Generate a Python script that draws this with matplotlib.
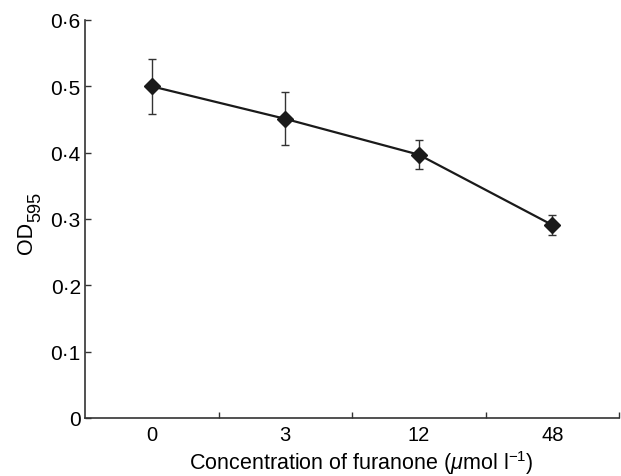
#!/usr/bin/env python3
"""OD595 against furanone concentration, mean with error bars."""

import matplotlib
matplotlib.use("Agg")
import matplotlib.pyplot as plt
import numpy as np

plt.rcParams.update(
    {
        "font.family": ["Liberation Sans", "DejaVu Sans"],
        "mathtext.fontset": "custom",
        "mathtext.rm": "Liberation Sans",
        "mathtext.it": "Liberation Sans:italic",
    }
)

concentrations = ["0", "3", "12", "48"]
od595 = [0.500, 0.451, 0.397, 0.291]
od595_err = [0.041, 0.040, 0.022, 0.015]
y_ticks = [0.0, 0.1, 0.2, 0.3, 0.4, 0.5, 0.6]
y_tick_labels = ["0", "0\u00b71", "0\u00b72", "0\u00b73", "0\u00b74", "0\u00b75", "0\u00b76"]

W, H = 621, 477
fig = plt.figure(figsize=(W / 100, H / 100), dpi=100)
ax = fig.add_axes([85 / W, 1 - 419 / H, (619 - 85) / W, (419 - 21) / H])

x = np.arange(len(concentrations))
ax.errorbar(
    x, od595, yerr=od595_err,
    fmt="none", ecolor="#333333", elinewidth=1.0, capsize=3.2, capthick=1.0, zorder=2,
)
ax.plot(x, od595, color="#1a1a1a", lw=1.6, marker="D", markersize=8.3,
        markerfacecolor="#1a1a1a", markeredgecolor="#1a1a1a", zorder=3)

ax.set_xlim(-0.5, len(concentrations) - 0.5)
ax.set_ylim(0, 0.6)
ax.set_xticks(x)
ax.set_xticklabels(concentrations, fontsize=14.5)
ax.set_xticks(np.arange(0.5, len(concentrations), 1.0), minor=True)
ax.tick_params(axis="x", which="major", length=0, pad=5)
ax.tick_params(axis="x", which="minor", direction="in", length=4, width=1.0, color="#333333")
ax.set_yticks(y_ticks)
ax.set_yticklabels(y_tick_labels, fontsize=15)
ax.tick_params(axis="y", direction="in", length=4, width=1.0, color="#333333", pad=3)

for side in ("top", "right"):
    ax.spines[side].set_visible(False)
for side in ("left", "bottom"):
    ax.spines[side].set_linewidth(1.2)
    ax.spines[side].set_color("#333333")

# axis titles placed by hand so the sub/superscripts stay near full size
fig.text(361 / W, 1 - 470 / H, r"Concentration of furanone ($\mathit{\mu}$mol l$^{-1}$)",
         fontsize=15.5, ha="center", va="baseline")
fig.text(26.5 / W, 1 - 238 / H, "OD", fontsize=15.5, rotation=90, ha="center", va="center")
fig.text(35.5 / W, 1 - 207 / H, "595", fontsize=13, rotation=90, ha="center", va="center")

fig.savefig("out.png", dpi=100)
